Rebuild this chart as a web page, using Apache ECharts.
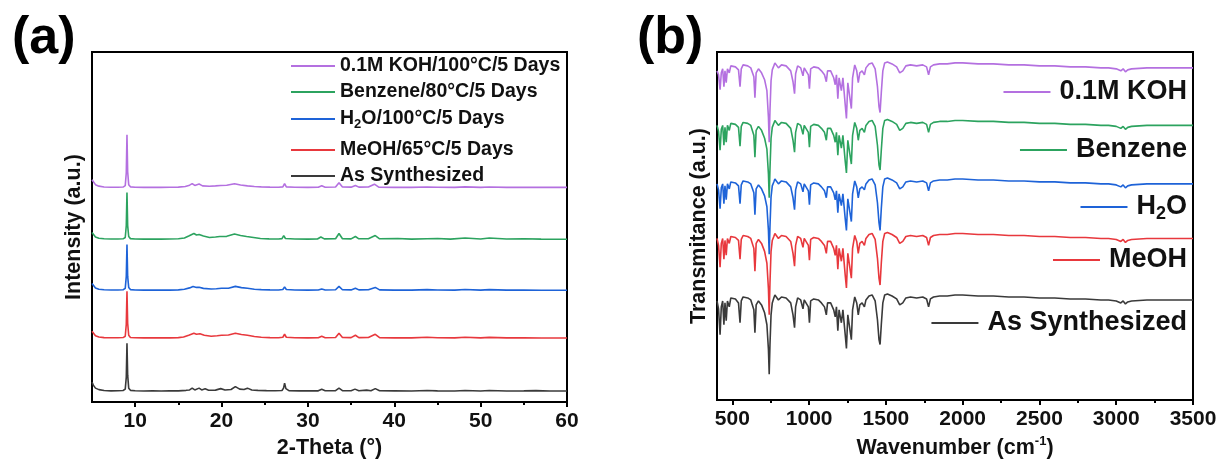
<!DOCTYPE html>
<html><head><meta charset="utf-8">
<script src="https://cdn.jsdelivr.net/npm/echarts@6/dist/echarts.min.js"></script>
<style>html,body{margin:0;padding:0;background:#fff}#c{width:1221px;height:464px}</style>
</head><body><div id="c"></div>
<script>
const FONT = '"Liberation Sans", Arial, sans-serif';

// ---------- Panel (a): XRD ----------
const xrdNames = ['As Synthesized', 'MeOH/65°C/5 Days', 'H2O/100°C/5 Days', 'Benzene/80°C/5 Days', '0.1M KOH/100°C/5 Days'];
const xrdOffsets = [11, 64, 112, 163, 215];
const xrdTickValues = [10, 20, 30, 40, 50, 60];
const xrdMinorTicks = [15, 25, 35, 45, 55];

const xrdAsSynthesized = [[5,9],[5.15,6],[5.4,3],[5.8,1.5],[6.4,0.6],[7.2,0.3],[8,0.4],[8.6,0.6],[8.85,2],[8.97,14],[9.05,48],[9.13,16],[9.25,3],[9.45,0.8],[10,0.4],[11,0.2],[12,0.4],[13,0.2],[14,0.3],[15,0.3],[15.9,0.8],[16.3,1.2],[16.6,3],[16.9,1.2],[17.4,3],[17.7,1.2],[18.1,2.3],[18.5,0.9],[19.3,1],[19.9,2.5],[20.4,1.2],[21.1,1.6],[21.6,4.5],[22.1,2],[22.6,1.6],[23.0,3],[23.5,1.2],[24.2,0.8],[25.2,0.5],[26.2,0.4],[27.0,0.6],[27.18,3],[27.3,8],[27.45,2.5],[27.8,0.5],[29,0.3],[30.3,0.4],[31.2,0.3],[31.6,1.8],[32,0.4],[33.2,0.5],[33.6,3],[34,0.5],[35,0.4],[35.45,2],[35.9,0.4],[36.8,1],[37.3,0.4],[37.8,2.5],[38.3,0.4],[40,0.3],[42,0.2],[43.8,0.7],[45,0.3],[47,0.2],[48.2,0.6],[50,0.2],[51,0.6],[53,0.2],[55,0.3],[56.4,0.5],[58,0.2],[60,0.2]];
const xrdMeOH = [[5,7],[5.15,5],[5.4,2.5],[5.8,1.2],[6.4,0.6],[7.2,0.5],[8,0.5],[8.6,0.7],[8.85,2],[8.97,14],[9.05,47],[9.13,15],[9.25,3],[9.45,0.8],[10,0.5],[11,0.4],[12,0.5],[13,0.4],[14,0.4],[15,0.6],[15.6,1.2],[16.2,3],[16.8,5],[17.1,4],[17.5,4.5],[18,3],[18.8,2],[19.5,2.5],[20,3],[20.8,3.3],[21.6,5],[22.3,3.8],[23,3],[23.8,1.8],[24.6,1],[25.6,0.6],[26.6,0.5],[27.1,1],[27.3,4],[27.5,1],[28.5,0.5],[30,0.4],[31.2,0.5],[31.6,2],[32,0.5],[33.2,0.8],[33.6,5],[34,0.8],[35,0.6],[35.5,3],[35.9,0.6],[37,0.8],[37.8,4],[38.3,0.6],[40,0.4],[42,0.4],[43.8,1],[45,0.5],[47,0.4],[48.2,1],[50,0.4],[51,0.9],[53,0.4],[55,0.4],[57,0.3],[60,0.3]];
const xrdH2O = [[5,7],[5.15,5],[5.4,2.5],[5.8,1.2],[6.4,0.6],[7.2,0.4],[8,0.4],[8.6,0.6],[8.85,2],[8.97,14],[9.05,46],[9.13,14],[9.25,3],[9.45,0.8],[10,0.4],[11,0.3],[12,0.4],[13,0.3],[14,0.3],[15,0.5],[15.7,1.2],[16.3,2.5],[16.7,4],[17.1,3],[17.4,3.2],[17.9,2],[18.8,1.4],[19.4,1.6],[20,2.2],[20.8,2.2],[21.6,4],[22.3,2.8],[23,2.2],[23.8,1.2],[24.6,0.8],[25.6,0.5],[26.6,0.4],[27.1,0.9],[27.3,3.5],[27.5,0.9],[28.5,0.4],[30,0.3],[31.2,0.4],[31.6,1.5],[32,0.4],[33.2,0.6],[33.6,4],[34,0.6],[35,0.5],[35.5,2.2],[35.9,0.5],[37,0.6],[37.8,3],[38.3,0.5],[40,0.3],[42,0.3],[43.8,0.8],[45,0.4],[47,0.3],[48.2,0.9],[50,0.3],[51,0.8],[53,0.3],[55,0.3],[57,0.2],[60,0.2]];
const xrdBenzene = [[5,7],[5.15,5],[5.4,2.5],[5.8,1.3],[6.4,0.7],[7.2,0.5],[8,0.5],[8.6,0.7],[8.85,2],[8.97,14],[9.05,47],[9.13,14],[9.25,3],[9.45,0.9],[10,0.5],[11,0.4],[12,0.5],[13,0.4],[14,0.5],[15,0.7],[15.7,1.5],[16.2,3.5],[16.8,6],[17.1,4.5],[17.4,5],[17.9,3.5],[18.6,2],[19.3,2.5],[19.8,3],[20.6,3.2],[21.5,5.5],[22.2,4],[22.9,3],[23.7,2],[24.5,1],[25.5,0.6],[26.6,0.5],[27,0.9],[27.2,4],[27.4,1],[28.5,0.5],[30,0.4],[31.1,0.5],[31.5,2.5],[31.9,0.6],[33.2,0.8],[33.6,6],[34,0.8],[35,0.6],[35.5,3],[35.9,0.7],[37,0.8],[37.8,4],[38.3,0.7],[40.4,1],[42,0.4],[43.8,0.8],[45,1],[46.5,0.4],[48.2,1.5],[50,0.5],[51,1.5],[53,0.5],[55,0.7],[57,0.4],[60,0.3]];
const xrdKOH = [[5,8],[5.15,6],[5.4,3],[5.8,1.5],[6.4,0.7],[7.2,0.4],[8,0.4],[8.6,0.6],[8.85,2],[8.97,15],[9.05,53],[9.13,16],[9.25,3],[9.45,0.8],[10,0.4],[11,0.3],[12,0.4],[13,0.3],[14,0.4],[15,0.5],[15.8,1.2],[16.3,2.5],[16.6,4],[16.9,2.2],[17.4,3.6],[17.8,1.8],[18.6,1.4],[19.3,1.8],[19.9,2.2],[20.6,2.4],[21.5,4],[22.2,2.6],[23,1.8],[23.8,1.2],[24.6,0.8],[25.6,0.5],[26.6,0.4],[27.1,0.8],[27.3,4],[27.5,0.8],[28.5,0.4],[30,0.3],[31.2,0.4],[31.6,2],[32,0.4],[33.2,0.6],[33.6,5],[34,0.6],[35,0.5],[35.5,2.2],[35.9,0.5],[37,0.6],[37.7,3.5],[38.2,0.5],[40,0.3],[42,0.3],[43.8,0.7],[45,0.4],[47,0.3],[48.2,0.8],[50,0.3],[51,0.7],[53,0.3],[55,0.3],[57,0.3],[60,0.3]];

// ---------- Panel (b): FTIR ----------
const ftirNames = ['As Synthesized', 'MeOH', 'H2O', 'Benzene', '0.1M KOH'];
const ftirOffsets = [106, 168, 223, 282, 340];
const ftirTickValues = [500, 1000, 1500, 2000, 2500, 3000, 3500];
const ftirMinorTicks = [750, 1250, 1750, 2250, 2750, 3250];

const wavenumber = [
  400,410,420,428,437,445,452,460,468,480,
  490,500,520,540,550,558,570,600,620,640,
  647,655,670,690,710,725,735,740,745,752,
  760,770,777,790,800,820,850,880,895,905,
  912,925,945,960,968,980,995,1002,1010,1030,
  1060,1080,1100,1112,1120,1140,1160,1170,1178,1187,
  1195,1210,1220,1235,1243,1252,1262,1275,1283,1297,
  1310,1320,1330,1345,1360,1370,1390,1410,1430,1445,
  1455,1462,1470,1480,1492,1510,1540,1570,1590,1600,
  1610,1630,1660,1700,1740,1765,1778,1790,1810,1850,
  1900,1950,2000,2100,2200,2300,2400,2500,2600,2700,
  2800,2900,2950,3000,3030,3045,3060,3075,3100,3200,
  3300,3400,3500];

const ftirAsSynthesized = [
  -6,-14,-40,-12,-6,-30,-8,-26,-6,-12,
  -3,-2,-4,-8,-28,-6,-2,-3,-5,-15,
  -38,-10,-6,-10,-18,-30,-55,-80,-50,-20,
  -8,-3,0,-1,-5,-2,-3,-8,-20,-33,
  -12,-3,-5,-14,-5,-4,-12,-28,-6,-4,
  -5,-8,-12,-20,-8,-8,-15,-22,-12,-36,
  -15,-28,-15,-40,-54,-20,-18,-45,-15,-2,
  -8,-20,-10,-8,-12,-5,-1,0,-6,-25,
  -45,-50,-30,-8,0,1,-1,-4,-10,-12,
  -8,-3,-2,-3,-2,-4,-12,-4,-2,-1,
  -1,0,0,-1,-1,-2,-2,-3,-3,-4,
  -4,-5,-5,-6,-8,-6,-9,-7,-6,-5,
  -5,-5,-5];
const ftirMeOH = [
  -5,-12,-34,-10,-5,-26,-7,-22,-5,-10,
  -3,-2,-4,-7,-26,-6,-2,-3,-5,-15,
  -38,-10,-6,-10,-18,-30,-56,-82,-50,-18,
  -7,-3,0,-1,-5,-2,-3,-8,-20,-33,
  -12,-3,-5,-14,-5,-4,-12,-27,-6,-4,
  -5,-8,-12,-20,-8,-8,-15,-22,-12,-36,
  -15,-28,-15,-42,-55,-20,-18,-45,-15,-2,
  -8,-20,-10,-8,-12,-5,-1,0,-6,-25,
  -45,-52,-30,-8,0,1,-1,-4,-10,-12,
  -8,-3,-2,-3,-2,-4,-12,-4,-2,-1,
  -1,0,0,-1,-1,-2,-2,-3,-3,-4,
  -4,-5,-5,-6,-8,-6,-9,-7,-6,-5,
  -5,-5,-5];
const ftirH2O = [
  -5,-11,-30,-9,-5,-25,-7,-21,-5,-10,
  -3,-2,-4,-7,-25,-6,-2,-3,-5,-14,
  -36,-10,-6,-10,-17,-28,-52,-76,-48,-18,
  -7,-3,0,-1,-5,-2,-3,-8,-19,-31,
  -11,-3,-5,-13,-5,-4,-12,-26,-6,-4,
  -5,-8,-12,-19,-8,-8,-14,-21,-12,-34,
  -15,-27,-15,-40,-52,-20,-18,-43,-15,-2,
  -8,-19,-10,-8,-11,-5,-1,0,-6,-24,
  -44,-52,-30,-8,0,1,-1,-4,-10,-12,
  -8,-3,-2,-3,-2,-4,-12,-4,-2,-1,
  -1,0,0,-1,-1,-2,-2,-3,-3,-4,
  -4,-5,-5,-6,-8,-6,-9,-7,-6,-5,
  -5,-5,-5];
const ftirBenzene = [
  -5,-11,-30,-9,-5,-25,-7,-22,-5,-10,
  -3,-2,-4,-7,-26,-6,-2,-3,-5,-15,
  -37,-10,-6,-10,-18,-29,-54,-78,-49,-18,
  -7,-3,0,-1,-5,-2,-3,-8,-20,-32,
  -12,-3,-5,-14,-5,-4,-12,-27,-6,-4,
  -5,-8,-12,-20,-8,-8,-15,-22,-12,-35,
  -15,-28,-15,-41,-53,-20,-18,-44,-15,-2,
  -8,-20,-10,-8,-12,-5,-1,0,-6,-25,
  -45,-50,-30,-8,0,1,-1,-4,-10,-12,
  -8,-3,-2,-3,-2,-4,-12,-4,-2,-1,
  -1,0,0,-1,-1,-2,-2,-3,-3,-4,
  -4,-5,-5,-6,-8,-6,-9,-7,-6,-5,
  -5,-5,-5];
const ftirKOH = [
  -8,-12,-27,-10,-6,-24,-8,-20,-6,-10,
  -3,-2,-4,-7,-24,-6,-2,-3,-5,-14,
  -35,-10,-6,-10,-17,-28,-55,-80,-48,-18,
  -7,-3,0,-1,-5,-2,-3,-8,-19,-31,
  -11,-3,-5,-13,-5,-4,-12,-26,-6,-4,
  -5,-8,-12,-19,-8,-8,-15,-22,-12,-36,
  -15,-28,-15,-42,-56,-20,-18,-46,-15,-2,
  -8,-20,-10,-8,-12,-5,-1,0,-6,-24,
  -44,-50,-30,-8,0,1,-1,-4,-10,-12,
  -8,-3,-2,-3,-2,-4,-12,-4,-2,-1,
  -1,0,0,-1,-1,-2,-2,-3,-3,-4,
  -4,-5,-5,-6,-8,-6,-9,-7,-6,-5,
  -5,-5,-5];

const colors = ['#3a3a3a', '#e8383d', '#1e63d8', '#2ca35f', '#b470e0'];

const xrdData = [xrdAsSynthesized, xrdMeOH, xrdH2O, xrdBenzene, xrdKOH];
const ftirData = [ftirAsSynthesized, ftirMeOH, ftirH2O, ftirBenzene, ftirKOH];

function subName(name, tag) {
  if (name.indexOf('H2O') === 0) return 'H{' + tag + '|2}' + name.slice(2);
  return name;
}

const series = [];
xrdData.forEach((pts, i) => {
  series.push({
    type: 'line', name: xrdNames[i], xAxisIndex: 0, yAxisIndex: 0,
    showSymbol: false, symbol: 'none', color: colors[i],
    lineStyle: { width: 1.6, color: colors[i] },
    data: pts.map(p => [p[0], p[1] + xrdOffsets[i]])
  });
});
ftirData.forEach((vals, i) => {
  series.push({
    type: 'line', name: ftirNames[i] + ' ', xAxisIndex: 2, yAxisIndex: 1,
    showSymbol: false, symbol: 'none', color: colors[i],
    lineStyle: { width: 1.6, color: colors[i] },
    data: wavenumber.map((w, k) => [w, vals[k] + ftirOffsets[i]])
  });
});

// legends
const legendA_centers = [176, 150, 119, 92, 66];
const legendB_centers = [323, 260, 207, 150, 92];
const legends = [];
xrdNames.forEach((n, i) => {
  legends.push({
    data: [n], left: 291, top: legendA_centers[i] - 12, padding: 0, itemGap: 0,
    itemWidth: 44, itemHeight: 2, icon: 'rect', selectedMode: false,
    formatter: name => subName(name, 's'),
    textStyle: {
      fontFamily: FONT, fontWeight: 'bold', fontSize: 19.5, color: '#111', lineHeight: 24,
      rich: { s: { fontFamily: FONT, fontWeight: 'bold', fontSize: 13, lineHeight: 13, verticalAlign: 'bottom', color: '#111' } }
    }
  });
});
ftirNames.forEach((n, i) => {
  legends.push({
    data: [n + ' '], right: 34, top: legendB_centers[i] - 16, padding: 0, itemGap: 0,
    itemWidth: 47, itemHeight: 2, icon: 'rect', selectedMode: false,
    formatter: name => subName(name.trim(), 's'),
    textStyle: {
      fontFamily: FONT, fontWeight: 'bold', fontSize: 27, color: '#111', lineHeight: 32,
      padding: [0, 0, 0, 4],
      rich: { s: { fontFamily: FONT, fontWeight: 'bold', fontSize: 18, lineHeight: 18, verticalAlign: 'bottom', color: '#111' } }
    }
  });
});

const axisTextStyle = { fontFamily: FONT, fontWeight: 'bold', fontSize: 21, color: '#111' };
const nameStyle = { fontFamily: FONT, fontWeight: 'bold', fontSize: 21.5, color: '#111' };

function mainX(grid, min, max, ticks, name, nameStyleObj) {
  return {
    gridIndex: grid, type: 'value', min: min, max: max, position: 'bottom',
    axisLine: { show: true, onZero: false, lineStyle: { color: '#000', width: 2 } },
    axisTick: { show: true, inside: false, length: 5, customValues: ticks, lineStyle: { color: '#000', width: 2 } },
    axisLabel: Object.assign({ show: true, customValues: ticks, margin: 9, formatter: v => String(v) }, axisTextStyle),
    splitLine: { show: false },
    name: name, nameLocation: 'middle', nameGap: 34, nameTextStyle: nameStyleObj
  };
}
function minorX(grid, min, max, ticks) {
  return {
    gridIndex: grid, type: 'value', min: min, max: max, position: 'bottom',
    axisLine: { show: false, onZero: false },
    axisTick: { show: true, inside: false, length: 3, customValues: ticks, lineStyle: { color: '#000', width: 2 } },
    axisLabel: { show: false },
    splitLine: { show: false }
  };
}
function yAx(grid, name) {
  return {
    gridIndex: grid, type: 'value', min: 0, max: 351,
    axisLine: { show: true, onZero: false, lineStyle: { color: '#000', width: 2 } },
    axisTick: { show: false }, axisLabel: { show: false }, splitLine: { show: false },
    name: name, nameLocation: 'middle', nameGap: 7, nameTextStyle: nameStyle
  };
}

const option = {
  animation: false,
  backgroundColor: '#fff',
  grid: [
    { left: 92, top: 52, width: 475, height: 351, show: true, borderColor: '#000', borderWidth: 2, backgroundColor: 'transparent' },
    { left: 717, top: 52, width: 476, height: 351, show: true, borderColor: '#000', borderWidth: 2, backgroundColor: 'transparent' }
  ],
  xAxis: [
    mainX(0, 5, 60, xrdTickValues, '2-Theta (°)', nameStyle),
    minorX(0, 5, 60, xrdMinorTicks),
    mainX(1, 400, 3500, ftirTickValues, '{n|Wavenumber (cm}{sup|-1}{n|)}', Object.assign({}, nameStyle, {
      rich: {
        n: { fontFamily: FONT, fontWeight: 'bold', fontSize: 21.5, lineHeight: 26, color: '#111' },
        sup: { fontFamily: FONT, fontWeight: 'bold', fontSize: 13, lineHeight: 13, verticalAlign: 'top', color: '#111' }
      }
    })),
    minorX(1, 400, 3500, ftirMinorTicks)
  ],
  yAxis: [yAx(0, 'Intensity (a.u.)'), yAx(1, 'Transmitance (a.u.)')],
  legend: legends,
  graphic: [
    { type: 'text', left: 12, top: 13, style: { text: '(a)', font: 'bold 52px ' + FONT, fill: '#000' } },
    { type: 'text', left: 637, top: 13, style: { text: '(b)', font: 'bold 52px ' + FONT, fill: '#000' } }
  ],
  series: series
};

const chart = echarts.init(document.getElementById('c'), null, { renderer: 'canvas' });
chart.setOption(option);
</script></body></html>
